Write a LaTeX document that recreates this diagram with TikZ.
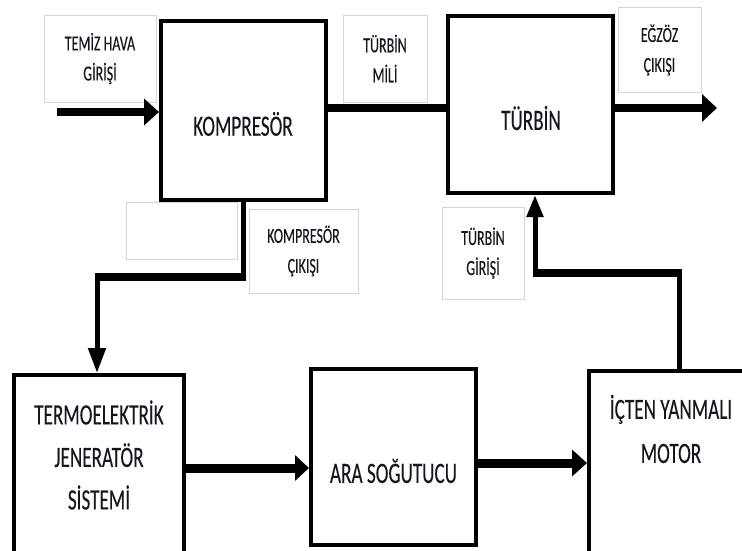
\documentclass[tikz,border=0pt]{standalone}
\usepackage{fontspec}
\setmainfont{Carlito}[FakeStretch=0.65,FakeBold=0.2]
\usetikzlibrary{arrows.meta,calc}
\definecolor{lblgray}{RGB}{214,214,214}
\definecolor{txt}{RGB}{22,22,32}
\begin{document}
\begin{tikzpicture}[x=1pt,y=-1pt,
  blk/.style={draw=black, line width=4pt, fill=white, inner sep=0pt},
  lbl/.style={draw=lblgray, line width=0.8pt, fill=white, inner sep=0pt,
    align=center, text=txt, font=\fontsize{21.5}{30}\selectfont},
  bigtxt/.style={inner sep=0pt, align=center, text=txt, font=\fontsize{29.5}{43}\selectfont},
  flow/.style={line width=8pt, draw=black},
  thin/.style={line width=5pt, draw=black}]
\useasboundingbox (0,0) rectangle (742,551);
\clip (0,0) rectangle (742,551);

% main blocks
\node[blk, minimum width=165pt, minimum height=179pt] (komp) at (243.5,110.5) {};
\node[blk, minimum width=165pt, minimum height=177pt] (turb) at (530.5,104.5) {};
\node[blk, minimum width=170pt, minimum height=185pt] (teg)  at (99,467.5) {};
\node[blk, minimum width=165pt, minimum height=176pt] (ara)  at (393.5,457) {};
\node[blk, minimum width=157pt, minimum height=185pt] (mot)  at (667.5,463.5) {};

% block texts
\node[bigtxt] (tkomp) at (243,124) {KOMPRESÖR};
\node[bigtxt] (tturb) at (531,118) {TÜRBİN};
\node[bigtxt, font=\fontsize{29.5}{42.5}\selectfont] (tteg) at (99,455) {TERMOELEKTRİK\\JENERATÖR\\SİSTEMİ};
\node[bigtxt] (tara) at (393.5,471) {ARA SOĞUTUCU};
\node[bigtxt, font=\fontsize{29.5}{44}\selectfont] (tmot) at (671,429) {İÇTEN YANMALI\\MOTOR};

% label boxes
\node[lbl, minimum width=112pt, minimum height=87pt] (lhava) at (100,58.5) {TEMİZ HAVA\\GİRİŞİ};
\node[lbl, minimum width=84pt, minimum height=87pt] (lmil) at (385,58.5) {TÜRBİN\\MİLİ};
\node[lbl, minimum width=83pt, minimum height=85pt] (legz) at (659.5,50) {EĞZÖZ\\ÇIKIŞI};
\node[lbl, minimum width=111pt, minimum height=57pt] (lbos) at (181.5,230.5) {};
\node[lbl, minimum width=109pt, minimum height=84pt] (lkc) at (303.5,251) {KOMPRESÖR\\ÇIKIŞI};
\node[lbl, minimum width=82pt, minimum height=92pt] (ltg) at (483,253) {TÜRBİN\\GİRİŞİ};

% coordinates
\coordinate (in0) at (57,112);
\coordinate (sh) at (0,108);
\coordinate (ex) at (717,108);
\coordinate (k1) at (243,277);
\coordinate (k2) at (97,277);
\coordinate (r1) at (0,468);
\coordinate (r2) at (0,463);
\coordinate (m1) at (679,273);
\coordinate (m2) at (535,273);

% connectors
\draw[flow, -{Triangle[length=15pt,width=26pt]}] (in0) -- (komp.west |- in0);
\draw[flow] (komp.east |- sh) -- (turb.west |- sh);
\draw[flow, -{Triangle[length=15pt,width=27pt]}] (turb.east |- sh) -- (ex);

\draw[thin] (komp.south -| k1) -- (k1);
\draw[flow] ($(k1)+(2.5,0)$) -- ($(k2)+(-2.5,0)$);
\draw[thin, -{Triangle[length=25pt,width=17pt]}] ($(k2)+(0,-4)$) -- (teg.north -| k2);

\draw[line width=9pt, -{Triangle[length=14pt,width=25pt]}] (teg.east |- r1) -- (ara.west |- r1);
\draw[line width=9pt, -{Triangle[length=15pt,width=26pt]}] (ara.east |- r2) -- (mot.west |- r2);

\draw[thin] (mot.north -| m1) -- ($(m1)+(0,-4)$);
\draw[flow] ($(m1)+(2.5,0)$) -- ($(m2)+(-2.5,0)$);
\draw[thin, -{Triangle[length=22pt,width=16pt]}] ($(m2)+(0,4)$) -- (turb.south -| m2);
\end{tikzpicture}
\end{document}
